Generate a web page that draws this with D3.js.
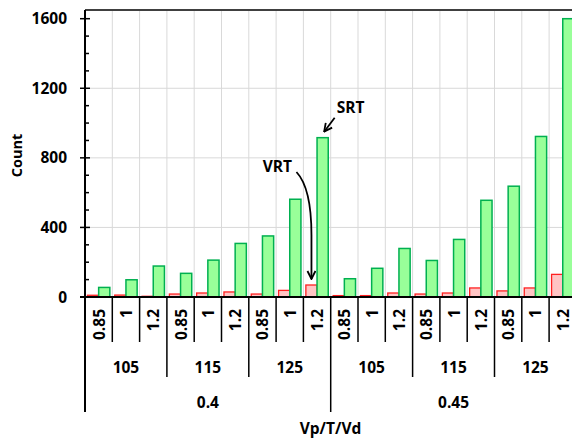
<!DOCTYPE html>
<html>
<head>
<meta charset="utf-8">
<script src="https://cdn.jsdelivr.net/npm/d3@7/dist/d3.min.js"></script>
<style>
  html, body { margin: 0; padding: 0; background: #fff; }
  svg { display: block; }
  text { font-family: "Open Sans", Lato, sans-serif; font-weight: 700; fill: #000; }
</style>
</head>
<body>
<svg id="chart" width="572" height="439"></svg>
<script>
// Hierarchical categories: Vp / T / Vd
const vpLevels = ["0.4", "0.45"];
const tLevels = ["105", "115", "125"];
const vdLevels = ["0.85", "1", "1.2"];

// Counts per leaf category (Vp, T, Vd order)
const srtCounts = [55, 99, 178, 136, 212, 308, 351, 562, 916,
                   105, 165, 279, 210, 331, 556, 637, 923, 1600];
const vrtCounts = [10, 11, 4, 17, 23, 29, 17, 38, 69,
                   8, 8, 23, 17, 23, 52, 35, 52, 130];

const yTicksMajor = [0, 400, 800, 1200, 1600];

const leaves = [];
vpLevels.forEach(vp => tLevels.forEach(t => vdLevels.forEach(vd => leaves.push({vp, t, vd}))));
leaves.forEach((d, i) => { d.key = i; d.srt = srtCounts[i]; d.vrt = vrtCounts[i]; });

const svg = d3.select("#chart");
const plotLeft = 85, plotRight = 576.4, plotTop = 10, plotBottom = 297;
const fs = 15.5;

const x = d3.scaleBand().domain(leaves.map(d => d.key)).range([plotLeft, plotRight]).padding(0);
const series = d3.scaleBand().domain(["VRT", "SRT"]).range([0, x.bandwidth()]).paddingInner(0).paddingOuter(0.22);
const y = d3.scaleLinear().domain([0, 1650]).range([plotBottom, plotTop]);

// gridlines
const grid = svg.append("g");
grid.selectAll("line.v").data(d3.range(1, leaves.length + 1)).join("line")
  .attr("x1", i => plotLeft + i * x.step()).attr("x2", i => plotLeft + i * x.step())
  .attr("y1", plotTop).attr("y2", plotBottom)
  .attr("stroke", "#d9d9d9").attr("stroke-width", 1);
grid.selectAll("line.h").data([400, 800, 1200]).join("line")
  .attr("x1", plotLeft).attr("x2", plotRight).attr("y1", d => y(d)).attr("y2", d => y(d))
  .attr("stroke", "#d9d9d9").attr("stroke-width", 1);

// plot-area top border
svg.append("line").attr("x1", plotLeft).attr("x2", 572).attr("y1", plotTop).attr("y2", plotTop)
  .attr("stroke", "#404040").attr("stroke-width", 2);

// bars
const bars = svg.append("g");
bars.selectAll("rect.vrt").data(leaves).join("rect")
  .attr("x", d => x(d.key) + series("VRT"))
  .attr("width", series.bandwidth())
  .attr("y", d => y(d.vrt))
  .attr("height", d => y(0) - y(d.vrt))
  .attr("fill", "#ffc4c4").attr("stroke", "#ff2020").attr("stroke-width", 1.3);
bars.selectAll("rect.srt").data(leaves).join("rect")
  .attr("x", d => x(d.key) + series("SRT"))
  .attr("width", series.bandwidth())
  .attr("y", d => y(d.srt))
  .attr("height", d => y(0) - y(d.srt))
  .attr("fill", "#99ff99").attr("stroke", "#00b050").attr("stroke-width", 1.5);

// y axis
const yAxis = svg.append("g");
yAxis.append("line").attr("x1", plotLeft).attr("x2", plotLeft).attr("y1", plotTop).attr("y2", 412)
  .attr("stroke", "#000").attr("stroke-width", 2);
yAxis.selectAll("line.minor").data(d3.range(100, 1650, 100).filter(v => v % 400 !== 0)).join("line")
  .attr("x1", plotLeft).attr("x2", plotLeft + 4).attr("y1", d => y(d)).attr("y2", d => y(d))
  .attr("stroke", "#000").attr("stroke-width", 1.5);
yAxis.selectAll("line.major").data(yTicksMajor).join("line")
  .attr("x1", plotLeft - 5).attr("x2", plotLeft + 5).attr("y1", d => y(d)).attr("y2", d => y(d))
  .attr("stroke", "#000").attr("stroke-width", 1.5);
yAxis.selectAll("text").data(yTicksMajor).join("text")
  .attr("x", 67).attr("y", d => y(d)).attr("dy", "0.36em")
  .attr("text-anchor", "end").attr("font-size", fs).text(d => d);

svg.append("text").attr("transform", `translate(22,${(plotTop + plotBottom) / 2 + 2}) rotate(-90)`)
  .attr("text-anchor", "middle").attr("font-size", 14.5).text("Count");

// x axis baseline
svg.append("line").attr("x1", plotLeft - 5).attr("x2", 572).attr("y1", plotBottom).attr("y2", plotBottom)
  .attr("stroke", "#000").attr("stroke-width", 2);

// multi-level category dividers
const xAxis = svg.append("g");
d3.range(1, leaves.length + 1).forEach(i => {
  const len = i % 9 === 0 ? 412 : (i % 3 === 0 ? 377 : 342);
  xAxis.append("line").attr("x1", plotLeft + i * x.step()).attr("x2", plotLeft + i * x.step())
    .attr("y1", plotBottom).attr("y2", len).attr("stroke", "#000").attr("stroke-width", 1.5);
});

// level 1: Vd labels (rotated)
xAxis.selectAll("text.vd").data(leaves).join("text")
  .attr("transform", d => `translate(${x(d.key) + x.bandwidth() / 2 + 6},309) rotate(-90)`)
  .attr("text-anchor", "end").attr("font-size", fs).text(d => d.vd);

// level 2: T labels
const tGroups = d3.range(0, leaves.length, 3);
xAxis.selectAll("text.t").data(tGroups).join("text")
  .attr("x", i => plotLeft + (i + 1.5) * x.step()).attr("y", 367).attr("dy", "0.36em")
  .attr("text-anchor", "middle").attr("font-size", fs).text(i => leaves[i].t);

// level 3: Vp labels
const vpGroups = d3.range(0, leaves.length, 9);
xAxis.selectAll("text.vp").data(vpGroups).join("text")
  .attr("x", i => plotLeft + (i + 4.5) * x.step()).attr("y", 402).attr("dy", "0.36em")
  .attr("text-anchor", "middle").attr("font-size", fs).text(i => leaves[i].vp);

svg.append("text").attr("x", 330.5).attr("y", 428).attr("dy", "0.36em")
  .attr("text-anchor", "middle").attr("font-size", fs).text("Vp/T/Vd");

// annotations pointing at the largest 0.4 bars
const defs = svg.append("defs");
defs.append("marker").attr("id", "head").attr("viewBox", "0 0 10 10")
  .attr("refX", 9).attr("refY", 5).attr("markerWidth", 10).attr("markerHeight", 10)
  .attr("markerUnits", "userSpaceOnUse").attr("orient", "auto")
  .append("path").attr("d", "M1,1 L9,5 L1,9").attr("fill", "none")
  .attr("stroke", "#000").attr("stroke-width", 1.8);

const target = leaves[8];
const sx = x(target.key) + series("SRT") + series.bandwidth() / 2;
const sy = y(target.srt);
svg.append("text").attr("x", sx + 28).attr("y", sy - 30).attr("dy", "0.36em")
  .attr("text-anchor", "middle").attr("font-size", fs).text("SRT");
svg.append("line").attr("x1", sx + 12).attr("y1", sy - 20).attr("x2", sx + 1.5).attr("y2", sy - 6)
  .attr("stroke", "#000").attr("stroke-width", 1.8).attr("marker-end", "url(#head)");

const vx = x(target.key) + series("VRT") + series.bandwidth() / 2;
const vy = y(target.vrt);
svg.append("text").attr("x", vx - 34).attr("y", 166).attr("dy", "0.36em")
  .attr("text-anchor", "middle").attr("font-size", fs).text("VRT");
svg.append("path")
  .attr("d", `M${vx - 15},172 Q${vx},188 ${vx},235 L${vx},${vy - 6}`)
  .attr("fill", "none").attr("stroke", "#000").attr("stroke-width", 1.8)
  .attr("marker-end", "url(#head)");
</script>
</body>
</html>
